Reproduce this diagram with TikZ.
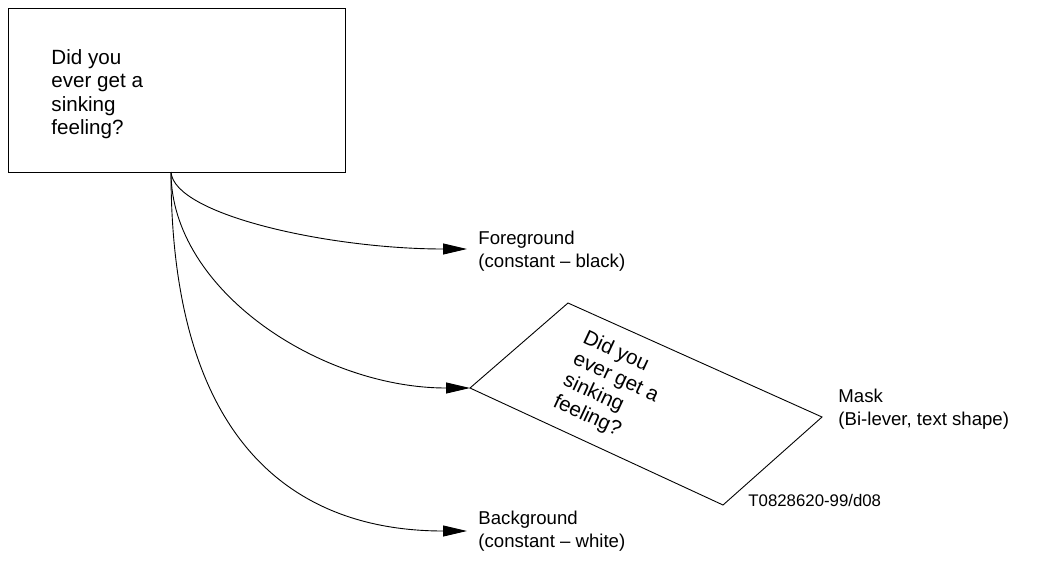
\documentclass[tikz,border=0pt]{standalone}
\usepackage{fontspec}
\setmainfont{Liberation Sans}
\usepackage{tikz}
\usetikzlibrary{arrows.meta}

\tikzset{
  lbl/.style={anchor=north west, inner sep=0pt, align=left,
    font=\fontsize{18.6}{23}\selectfont},
  cardtext/.style={anchor=north west, inner sep=0pt, align=left,
    font=\fontsize{20.6}{23.5}\selectfont},
  feed/.style={line width=0.9pt, -{Triangle[length=24pt,width=11pt]}}
}

\begin{document}
\begin{tikzpicture}[x=1pt, y=-1pt, line width=0.9pt]
        \useasboundingbox (0, 0) rectangle (1038, 563);
        \node[draw, line width=1.1pt, anchor=north west, inner sep=0pt,
          minimum width=337pt, minimum height=164pt] (card) at (8, 8) {};
        \node[cardtext] (cardtxt) at (51, 49) {Did you\\ever get a\\sinking\\feeling?};
        \coordinate (src) at (171, 172);
        \coordinate (fgtip) at (467, 249);
        \coordinate (mL) at (470, 388);
        \coordinate (mT) at (568, 303);
        \coordinate (mR) at (822, 417);
        \coordinate (mB) at (723, 505);
        \coordinate (bgtip) at (467, 531);
        \draw (mL) -- (mT) -- (mR) -- (mB) -- cycle;
        \node[cardtext, rotate=-25] (masktxt) at (588, 328) {Did you\\ever get a\\sinking\\feeling?};
        \draw[feed] (src) .. controls +(3, 43) and +(-137, 0) .. (fgtip);
        \draw[feed] (src) .. controls +(0, 118) and +(-150, 0) .. (mL);
        \draw[feed] (src) .. controls +(0, 298) and +(-147, 0) .. (bgtip);
        \node[lbl] (fg) at (478, 231) {Foreground\\(constant -- black)};
        \node[lbl] (mask) at (838, 389) {Mask\\(Bi-lever, text shape)};
        \node[lbl] (bg) at (478, 511) {Background\\(constant -- white)};
        \node[lbl, font=\fontsize{16.8}{20}\selectfont] (code) at (748, 494) {T0828620-99/d08};
      \end{tikzpicture}
\end{document}
